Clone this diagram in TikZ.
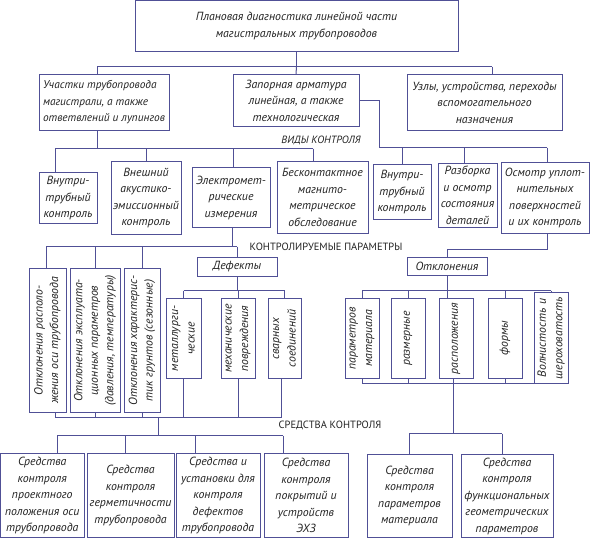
\documentclass[tikz,border=0pt]{standalone}
\usepackage{fontspec}
\setmainfont{PT Sans}
\definecolor{linec}{RGB}{80,80,150}
\definecolor{txtc}{RGB}{35,35,35}
\tikzset{
  box/.style={draw=linec,line width=1pt,inner sep=0pt,align=center,text=txtc,
    font=\itshape\fontsize{11.8}{16.5}\selectfont},
  ln/.style={draw=linec,line width=1pt},
  captext/.style={inner sep=0pt,text=txtc,font=\fontsize{10.5}{12}\selectfont}
}
\newcommand\bx[7][]{%
  \node[box,minimum width={#5-#3},minimum height={#6-#4},#1] (#2) at ({(#3+#5)/2},{(#4+#6)/2}) {#7};}
\newcommand\rbx[7][]{%
  \node[box,rotate=90,minimum width={#6-#4},minimum height={#5-#3},#1] (#2) at ({(#3+#5)/2},{(#4+#6)/2}) {#7};}
\begin{document}
\begin{tikzpicture}[x=1pt,y=-1pt]
\fill[white] (0,0) rectangle (591,538);
% level 0/1
\bx{top}{135}{0}{458}{51}{Плановая диагностика линейной части\\магистральных трубопроводов}
\bx[align=left,font=\itshape\fontsize{11.3}{16.5}\selectfont]{n1}{39}{74}{169}{130}{Участки трубопровода\\магистрали, а также\\ответвлений и лупингов}
\bx{n2}{233}{74}{359}{126}{Запорная арматура\\линейная, а также\\технологическая}
\bx{n3}{407}{74}{562}{130}{Узлы, устройства, переходы\\вспомогательного\\назначения}
% kinds of control
\bx{v1}{39}{172}{97}{223}{Внутри-\\трубный\\контроль}
\bx{v2}{111}{161}{181}{234}{Внешний\\акустико-\\эмиссионный\\контроль}
\bx{v3}{192}{167}{270}{227}{Электромет-\\рические\\измерения}
\bx{v4}{277}{161}{368}{233}{Бесконтактное\\магнито-\\метрическое\\обследование}
\bx{v5}{373}{164}{431}{219}{Внутри-\\трубный\\контроль}
\bx{v6}{438}{163}{497}{227}{Разборка\\и осмотр\\состояния\\деталей}
\bx{v7}{501}{162}{589}{233}{Осмотр уплот-\\нительных\\поверхностей\\и их контроль}
% parameters
\rbx[font=\itshape\fontsize{11.8}{15.5}\selectfont]{r1}{29}{268}{66}{412}{Отклонения располо-\\жения оси трубопровода}
\rbx[font=\itshape\fontsize{11.8}{15.5}\selectfont]{r2}{70}{268}{120}{412}{Отклонения эксплуата-\\ционных параметров\\(давления, температуры)}
\rbx[font=\itshape\fontsize{11.8}{15.5}\selectfont]{r3}{124}{268}{160}{412}{Отклонения характерис-\\тик грунтов (сезонные)}
\bx{def}{197}{257}{277}{276}{Дефекты}
\rbx{m1}{166}{298}{201}{378}{металлурги-\\ческие}
\rbx{m2}{221}{298}{255}{378}{механические\\повреждения}
\rbx{m3}{268}{298}{301}{378}{сварных\\соединений}
\bx{otk}{407}{257}{487}{275}{Отклонения}
\rbx{p1}{345}{298}{379}{378}{параметров\\материала}
\rbx{p2}{391}{298}{425}{378}{размерные}
\rbx{p3}{439}{298}{473}{378}{расположения}
\rbx{p4}{488}{298}{522}{378}{формы}
\rbx{p5}{534}{292}{568}{383}{Волнистость и\\шероховатость}
% means of control
\bx{s1}{0.5}{453}{84}{537}{Средства\\контроля\\проектного\\положения оси\\трубопровода}
\bx{s2}{87}{453}{174}{537}{Средства\\контроля\\герметичности\\трубопровода}
\bx{s3}{176}{453}{260}{537}{Средства и\\установки для\\контроля\\дефектов\\трубопровода}
\bx{s4}{264}{453}{348}{537}{Средства\\контроля\\покрытий и\\устройств\\ЭХЗ}
\bx{s5}{367}{454}{452}{537}{Средства\\контроля\\параметров\\материала}
\bx{s6}{461}{454}{553}{537}{Средства\\контроля\\функциональных\\геометрических\\параметров}
% captions
\node[captext,font=\itshape\fontsize{10.5}{12}\selectfont] (lab1) at (321,140) {ВИДЫ КОНТРОЛЯ};
\node[captext] (lab2) at (326,246) {КОНТРОЛИРУЕМЫЕ ПАРАМЕТРЫ};
\node[captext] (lab3) at (330,425) {СРЕДСТВА КОНТРОЛЯ};
% connectors level 1
\coordinate (a1) at (97,66); \coordinate (a3) at (492,66);
\draw[ln] (top.south) -- (top.south |- a1);
\draw[ln] (a1) -- (a3);
\draw[ln] (a1) -- (n1.north -| a1);
\draw[ln] (top.south |- a1) -- (n2.north);
\draw[ln] (a3) -- (n3.north -| a3);
% n1 -> kinds
\coordinate (b1) at (55,148); \coordinate (b3) at (233,148); \coordinate (b4) at (313,148);
\draw[ln] (n1.south -| a1) -- (a1 |- b1);
\draw[ln] (b1) -- (b4);
\draw[ln] (b1) -- (v1.north -| b1);
\draw[ln] (v2.north |- b1) -- (v2.north);
\draw[ln] (b3) -- (v3.north -| b3);
\draw[ln] (b4) -- (v4.north -| b4);
% n2 -> kinds
\coordinate (c0) at (379,147); \coordinate (c2) at (464,147); \coordinate (c3) at (547,147);
\draw[ln] (n2.east) -| (c0);
\draw[ln] (c0) -- (c3);
\draw[ln] (v5.north |- c0) -- (v5.north);
\draw[ln] (c2) -- (v6.north -| c2);
\draw[ln] (c3) -- (v7.north -| c3);
% v3 -> parameters
\coordinate (d0) at (232,246); \coordinate (d1) at (46,246); \coordinate (d4) at (237,246);
\draw[ln] (v3.south -| d0) -- (d0);
\draw[ln] (d1) -- (d4);
\draw[ln] (d1) -- (r1.east -| d1);
\draw[ln] (r2.east |- d1) -- (r2.east);
\draw[ln] (r3.east |- d1) -- (r3.east);
\draw[ln] (d4) -- (def.north);
% defects
\coordinate (e1) at (183,290);
\draw[ln] (def.south) -- (def.south |- e1);
\draw[ln] (m1.east |- e1) -- (m3.east |- e1);
\draw[ln] (m1.east |- e1) -- (m1.east);
\draw[ln] (m2.east |- e1) -- (m2.east);
\draw[ln] (m3.east |- e1) -- (m3.east);
% collection to means (left)
\coordinate (f1) at (55,417); \coordinate (f6) at (281,417);
\draw[ln] (r1.west -| f1) -- (f1);
\draw[ln] (r2.west) -- (r2.west |- f1);
\draw[ln] (r3.west) -- (r3.west |- f1);
\draw[ln] (m1.west) -- (m1.west |- f1);
\draw[ln] (m2.west) -- (m2.west |- f1);
\draw[ln] (m3.west -| f6) -- (f6);
\draw[ln] (f1) -- (f6);
\coordinate (g0) at (158,417); \coordinate (g1) at (158,435);
\draw[ln] (g0) -- (g1);
\coordinate (h1) at (57,435); \coordinate (h2) at (125,435); \coordinate (h3) at (195,435); \coordinate (h4) at (283,435);
\draw[ln] (h1) -- (h4);
\draw[ln] (h1) -- (s1.north -| h1);
\draw[ln] (h2) -- (s2.north -| h2);
\draw[ln] (h3) -- (s3.north -| h3);
\draw[ln] (h4) -- (s4.north -| h4);
% deviations (right)
\coordinate (i0) at (547,249);
\draw[ln] (v7.south -| i0) -- (i0) -| (otk.north);
\coordinate (j1) at (362,290); \coordinate (j5) at (551,290);
\draw[ln] (otk.south) -- (otk.south |- j1);
\draw[ln] (j1) -- (j5);
\draw[ln] (p1.east |- j1) -- (p1.east);
\draw[ln] (p2.east |- j1) -- (p2.east);
\draw[ln] (otk.south |- j1) -- (p3.east -| otk.south);
\draw[ln] (p4.east |- j1) -- (p4.east);
\draw[ln] (p5.east |- j1) -- (p5.east);
\coordinate (k1) at (362,383); \coordinate (k5) at (551,383);
\draw[ln] (p1.west) -- (p1.west |- k1);
\draw[ln] (p2.west) -- (p2.west |- k1);
\draw[ln] (p4.west) -- (p4.west |- k1);
\draw[ln] (k1) -- (k5);
\coordinate (l0) at (453,433); \coordinate (l1) at (409,433); \coordinate (l2) at (502,433);
\draw[ln] (p3.west -| l0) -- (l0);
\draw[ln] (l1) -- (l2);
\draw[ln] (l1) -- (s5.north -| l1);
\draw[ln] (l2) -- (s6.north -| l2);
\end{tikzpicture}
\end{document}
